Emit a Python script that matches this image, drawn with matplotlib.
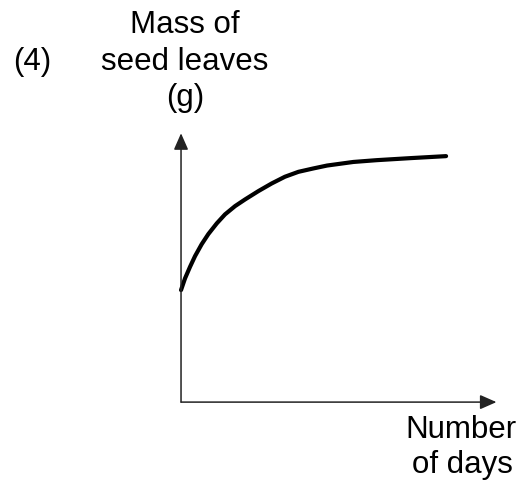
import matplotlib
matplotlib.use("Agg")
import matplotlib.pyplot as plt

# Curve (arbitrary units)
days = [0, 0.15, 0.34, 0.53, 0.78, 1.03, 1.35, 1.66, 2.04, 2.42, 2.92, 3.42,
        3.92, 4.43, 4.99, 5.51, 6.5, 7.38, 8.64, 10.0]
mass = [5.0, 5.52, 6.04, 6.52, 7.05, 7.5, 7.98, 8.38, 8.75, 9.05, 9.42, 9.76,
        10.06, 10.28, 10.43, 10.56, 10.72, 10.80, 10.89, 10.98]

y_label_lines = ["Mass of", "seed leaves", "(g)"]
x_label_lines = ["Number", "of days"]
panel_label = "(4)"

plt.rcParams["font.family"] = ["Liberation Sans", "DejaVu Sans"]

fig = plt.figure(figsize=(5.24, 4.87), dpi=100)
ax = fig.add_axes([0, 0, 1, 1])
ax.set_xlim(-6.83, 12.94)
ax.set_ylim(-3.79, 17.95)
ax.axis("off")

# axes with arrow heads
arrow = dict(arrowstyle="-|>,head_length=0.5,head_width=0.22", color="#222222",
             lw=1.1, shrinkA=0, shrinkB=0, mutation_scale=20)
ax.annotate("", xy=(11.9, 0), xytext=(0, 0), arrowprops=arrow)
ax.annotate("", xy=(0, 12.0), xytext=(0, 0), arrowprops=arrow)

ax.plot(days, mass, color="black", lw=3.0, solid_capstyle="round", solid_joinstyle="round")

fs = 22.5
ax.text(0.15, 16.83, y_label_lines[0], ha="center", va="center", fontsize=fs)
ax.text(0.15, 15.18, y_label_lines[1], ha="center", va="center", fontsize=fs)
ax.text(0.15, 13.57, y_label_lines[2], ha="center", va="center", fontsize=fs)
ax.text(-5.62, 15.18, panel_label, ha="center", va="center", fontsize=fs)

ax.text(10.57, -1.25, x_label_lines[0], ha="center", va="center", fontsize=fs)
ax.text(10.6, -2.83, x_label_lines[1], ha="center", va="center", fontsize=fs)

fig.savefig("out.png", dpi=100)
